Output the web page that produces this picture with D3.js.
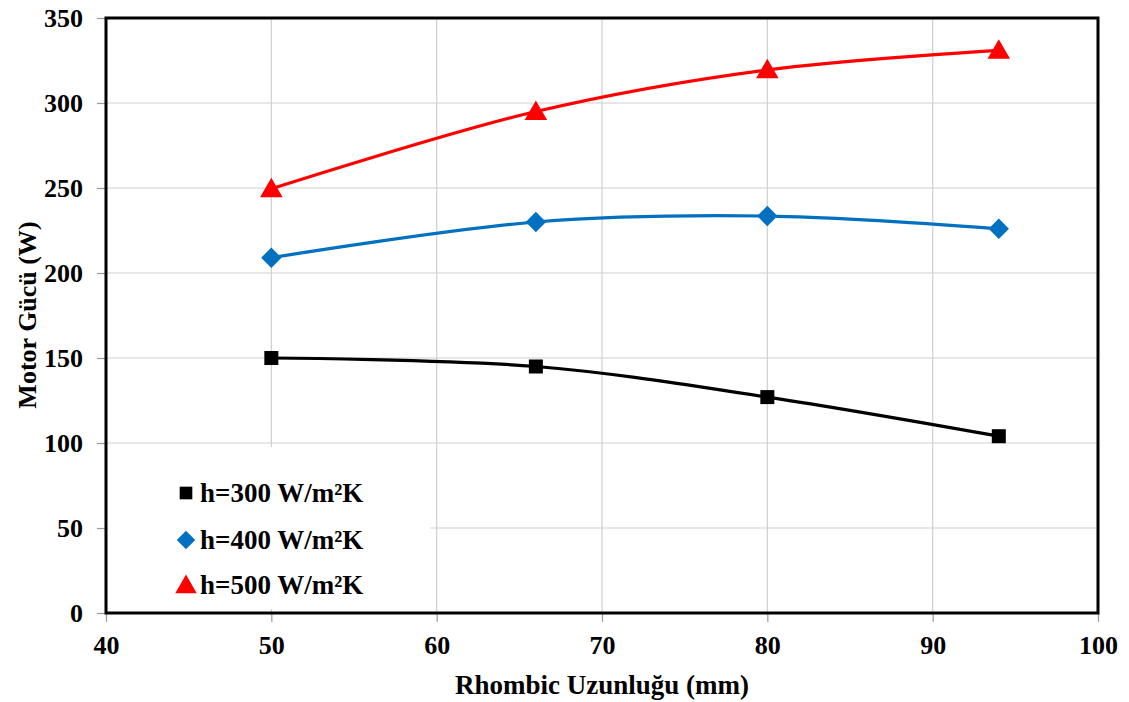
<!DOCTYPE html>
<html>
<head>
<meta charset="utf-8">
<script src="https://cdn.jsdelivr.net/npm/d3@7"></script>
<style>
  body { margin: 0; background: #fff; }
  text { font-family: "Times New Roman", "Liberation Serif", serif; font-weight: bold; fill: #000; }
</style>
</head>
<body>
<svg id="chart" width="1129" height="702"></svg>
<script>
// Chart data
var lengths = [50, 66, 80, 94];
var power300 = [150, 145, 127, 104];
var power400 = [209, 230, 233.5, 226];
var power500 = [249.5, 295, 319.5, 331];
var seriesNames = ['h=300 W/m\u00B2K', 'h=400 W/m\u00B2K', 'h=500 W/m\u00B2K'];
var seriesColors = ['#000000', '#0070c0', '#ff0000'];
var xTicks = [40, 50, 60, 70, 80, 90, 100];
var yTicks = [0, 50, 100, 150, 200, 250, 300, 350];

var svg = d3.select('#chart');

// Plot area bounds
var plotL = 106, plotR = 1098, plotT = 18, plotB = 613;

var xScale = d3.scaleLinear().domain([40, 100]).range([plotL, plotR]);
var yScale = d3.scaleLinear().domain([0, 350]).range([plotB, plotT]);

// Gridlines
svg.append('g').selectAll('line')
    .data(xTicks.slice(1, -1))
    .enter().append('line')
    .attr('x1', function(d) { return xScale(d); })
    .attr('x2', function(d) { return xScale(d); })
    .attr('y1', plotT).attr('y2', plotB)
    .attr('stroke', '#cfcfcf').attr('stroke-width', 1.2);

svg.append('g').selectAll('line')
    .data(yTicks.slice(1, -1))
    .enter().append('line')
    .attr('x1', plotL).attr('x2', plotR)
    .attr('y1', function(d) { return yScale(d); })
    .attr('y2', function(d) { return yScale(d); })
    .attr('stroke', '#cfcfcf').attr('stroke-width', 1.2);

// Legend background hides gridlines
svg.append('rect')
    .attr('x', plotL + 2).attr('y', 447)
    .attr('width', 430 - plotL - 2).attr('height', plotB - 447 - 4)
    .attr('fill', '#fff');

// Axes
var xAxis = d3.axisBottom(xScale).tickValues(xTicks).tickSize(9).tickPadding(14);
var yAxis = d3.axisLeft(yScale).tickValues(yTicks).tickSize(9).tickPadding(14);

var gx = svg.append('g')
    .attr('transform', 'translate(0,' + plotB + ')')
    .call(xAxis);
var gy = svg.append('g')
    .attr('transform', 'translate(' + plotL + ',0)')
    .call(yAxis);

[gx, gy].forEach(function(g) {
    g.select('.domain').remove();
    g.selectAll('.tick line').attr('stroke', '#999').attr('stroke-width', 1.2);
    g.selectAll('.tick text')
        .style('font-size', '26px')
        .style('font-family', '"Times New Roman", "Liberation Serif", serif')
        .style('font-weight', 'bold')
        .attr('fill', '#000');
});

// Frame
svg.append('rect')
    .attr('x', plotL).attr('y', plotT)
    .attr('width', plotR - plotL).attr('height', plotB - plotT)
    .attr('fill', 'none').attr('stroke', '#000').attr('stroke-width', 3);

// Axis titles
svg.append('text')
    .attr('x', 602).attr('y', 694)
    .attr('text-anchor', 'middle')
    .style('font-size', '27px')
    .text('Rhombic Uzunluğu (mm)');

svg.append('text')
    .attr('transform', 'translate(36,315)rotate(-90)')
    .attr('text-anchor', 'middle')
    .style('font-size', '26px')
    .text('Motor Gücü (W)');

// Series
var series = [power300, power400, power500].map(function(vals, i) {
    return {
        name: seriesNames[i],
        color: seriesColors[i],
        values: lengths.map(function(x, j) { return {x: x, y: vals[j]}; })
    };
});

var line = d3.line()
    .x(function(d) { return xScale(d.x); })
    .y(function(d) { return yScale(d.y); })
    .curve(d3.curveCatmullRom.alpha(0.5));

svg.append('g').selectAll('path')
    .data(series)
    .enter().append('path')
    .attr('d', function(d) { return line(d.values); })
    .attr('fill', 'none')
    .attr('stroke', function(d) { return d.color; })
    .attr('stroke-width', 3.2);

// Marker shapes
var shapes = [d3.symbolSquare, d3.symbolDiamond, d3.symbolTriangle];
var sizes = [196, 170, 220];

series.forEach(function(s, i) {
    svg.append('g').selectAll('path')
        .data(s.values)
        .enter().append('path')
        .attr('d', d3.symbol().type(shapes[i]).size(sizes[i]))
        .attr('transform', function(d) {
            var sx = i == 1 ? 1.45 : 1;
            var sy = i == 1 ? 0.85 : 1;
            return 'translate(' + xScale(d.x) + ',' + (yScale(d.y) + (i == 2 ? 2 : 0)) + ')scale(' + sx + ',' + sy + ')';
        })
        .attr('fill', s.color);
});

// Legend
var legendY = [493, 540, 585];
series.forEach(function(s, i) {
    var g = svg.append('g').attr('transform', 'translate(186,' + legendY[i] + ')');
    g.append('path')
        .attr('d', d3.symbol().type(shapes[i]).size([160, 140, 200][i]))
        .attr('transform', i == 1 ? 'scale(1.45,0.85)' : (i == 2 ? 'translate(0,2)' : null))
        .attr('fill', s.color);
    g.append('text')
        .attr('x', 14).attr('y', 9)
        .style('font-size', '27px')
        .text(s.name);
});
</script>
</body>
</html>
